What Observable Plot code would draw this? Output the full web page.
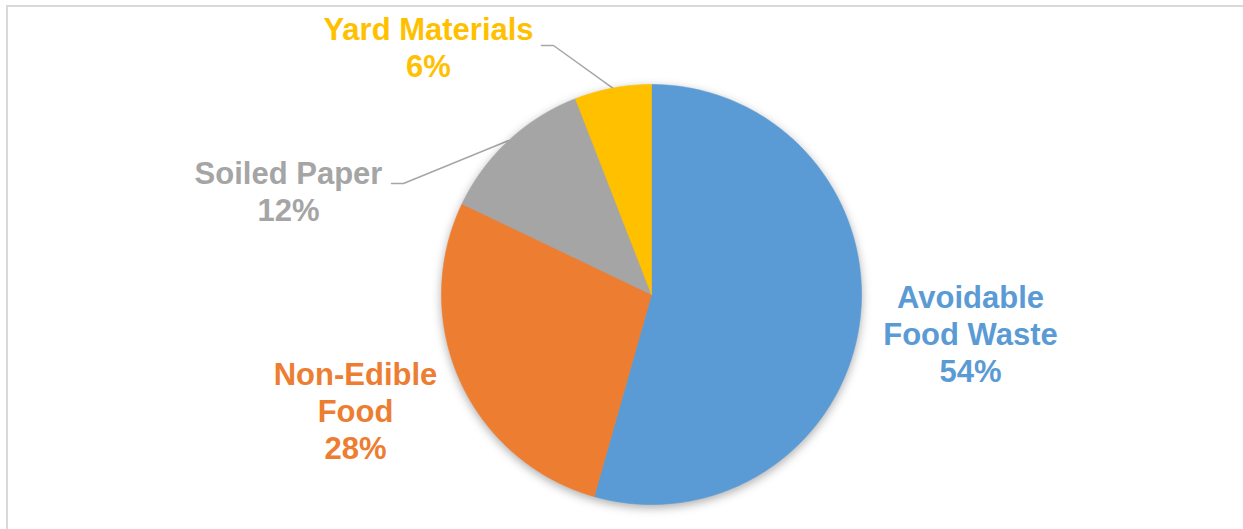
<!DOCTYPE html>
<html>
<head>
<meta charset="utf-8">
<script src="https://cdn.jsdelivr.net/npm/d3@7"></script>
<script src="https://cdn.jsdelivr.net/npm/@observablehq/plot@0.6"></script>
<style>
  html, body { margin: 0; padding: 0; background: #fff; }
  #wrap { position: relative; width: 1243px; height: 529px; overflow: hidden; }
  #frame { position: absolute; left: 6px; top: 5px; right: -10px; bottom: -10px;
           border-top: 2px solid #d9d9d9; border-left: 2px solid #d9d9d9; }
  #chart { position: absolute; left: 0; top: 0; }
</style>
</head>
<body>
<div id="wrap"><div id="frame"></div><div id="chart"></div></div>
<script>
// ---- data ----
const categories = ["Avoidable Food Waste", "Non-Edible Food", "Soiled Paper", "Yard Materials"];
const labelNames = ["Avoidable\nFood Waste", "Non-Edible\nFood", "Soiled Paper", "Yard Materials"];
const shares = [54.4, 27.7, 12.0, 5.9];
const colors = ["#5B9BD5", "#ED7D31", "#A5A5A5", "#FFC000"];

// ---- layout (pixels) ----
const W = 1243, H = 529;
const cx = 651, cy = 294, R = 210;
const labelPos = {
  "Avoidable Food Waste": [970, 333],
  "Non-Edible Food": [355, 410],
  "Soiled Paper": [288, 190],
  "Yard Materials": [428, 46]
};
const leaderElbow = {
  "Soiled Paper": [[391, 183], [403, 183]],
  "Yard Materials": [[541, 45], [553, 45]]
};
const ux = px => (px - cx) / R;
const uy = py => (py - cy) / R;

const arcs = d3.pie().sort(null).value(d => d.value)(
  categories.map((name, i) => ({name, value: shares[i]}))
);

// slice polygons
const polyPts = [];
for (const a of arcs) {
  const name = a.data.name;
  polyPts.push({name, x: 0, y: 0});
  const n = Math.max(2, Math.ceil((a.endAngle - a.startAngle) / (Math.PI / 360)));
  for (let k = 0; k <= n; k++) {
    const t = a.startAngle + (a.endAngle - a.startAngle) * k / n;
    polyPts.push({name, x: Math.sin(t), y: -Math.cos(t)});
  }
  polyPts.push({name, x: 0, y: 0});
}

// labels
const labels = arcs.map((a, i) => ({
  name: a.data.name,
  text: labelNames[i] + "\n" + Math.round(shares[i]) + "%",
  x: ux(labelPos[a.data.name][0]),
  y: uy(labelPos[a.data.name][1])
}));

// leader lines
const leaders = [];
for (const a of arcs) {
  const el = leaderElbow[a.data.name];
  if (!el) continue;
  const mid = (a.startAngle + a.endAngle) / 2;
  for (const p of el) leaders.push({name: a.data.name, x: ux(p[0]), y: uy(p[1])});
  leaders.push({name: a.data.name, x: Math.sin(mid), y: -Math.cos(mid)});
}

const chart = Plot.plot({
  width: W, height: H,
  margin: 0,
  x: {domain: [ux(0), ux(W)], range: [0, W], axis: null},
  y: {domain: [uy(0), uy(H)], range: [0, H], axis: null},
  color: {domain: categories, range: colors},
  style: {background: "transparent", overflow: "visible"},
  marks: [
    Plot.line(leaders, {x: "x", y: "y", z: "name", stroke: "#a6a6a6", strokeWidth: 1.5, curve: "linear"}),
    Plot.line(polyPts, {x: "x", y: "y", z: "name", fill: "name", stroke: "name", strokeWidth: 0.6, curve: "linear"}),
    Plot.text(labels, {
      x: "x", y: "y", text: "text", fill: "name",
      fontSize: 31, fontWeight: "bold", fontFamily: "Arial, 'Liberation Sans', sans-serif",
      lineHeight: 1.19, lineAnchor: "middle", textAnchor: "middle"
    })
  ]
});
document.getElementById("chart").appendChild(chart);
// soft shadow under the pie slices
const sliceGroup = chart.querySelectorAll('g[aria-label="line"]')[1];
if (sliceGroup) sliceGroup.style.filter = "drop-shadow(0px 3px 5px rgba(0,0,0,0.32))";
</script>
</body>
</html>
